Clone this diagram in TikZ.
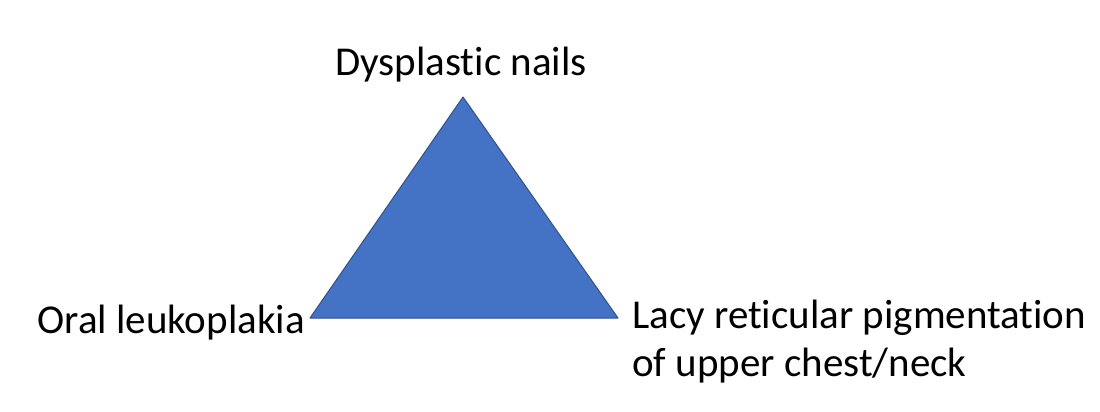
\documentclass[tikz,border=0pt]{standalone}
\usepackage{fontspec}
\setmainfont[Ligatures=CommonOff]{Carlito}
\definecolor{triblue}{HTML}{4472C4}
\definecolor{triedge}{HTML}{2F528F}
\begin{document}
\begin{tikzpicture}[x=1pt, y=-1pt, every node/.style={font=\fontsize{41}{48}\selectfont, inner sep=0pt}, line join=round]
  \useasboundingbox (0,0) rectangle (1100,412);
  \coordinate (T) at (463,97);
  \coordinate (L) at (310,318);
  \coordinate (R) at (618,318);

  \draw[fill=triblue, draw=triedge, line width=1pt] (T)--(L)--(R)--cycle;

  \node[anchor=base] (nails) at (461,75) {Dysplastic nails};
  \node[anchor=base east] (oral) at (305,333) {Oral leukoplakia};
  \node[anchor=base west, align=left] (lacy) at (632,376) {Lacy reticular pigmentation\\of upper chest/neck};
\end{tikzpicture}
\end{document}
